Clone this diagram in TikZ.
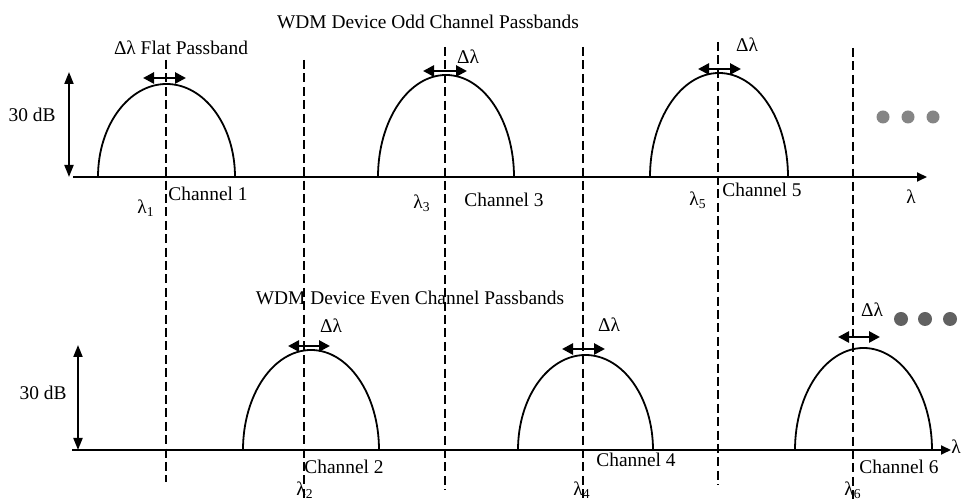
\documentclass[tikz,border=0pt]{standalone}
\usepackage{fontspec}
\setmainfont{Liberation Serif}
\usetikzlibrary{arrows.meta, positioning}

\begin{document}
\begin{tikzpicture}[x=0.5pt, y=0.5pt,
    axis/.style={line width=0.9pt, -{Triangle[length=5pt, width=4.5pt]}},
    band/.style={line width=0.9pt},
    guide/.style={line width=0.8pt, dash pattern=on 4.5pt off 2.2pt},
    span/.style={line width=1.3pt, {Triangle[length=5.5pt, width=5.5pt]}-{Triangle[length=5.5pt, width=5.5pt]}},
    gain/.style={line width=0.9pt, {Triangle[length=6pt, width=4.5pt]}-{Triangle[length=6pt, width=4.5pt]}},
    lbl/.style={font=\fontsize{9.7}{11}\selectfont, inner sep=0pt},
    dot/.style={circle, minimum size=6.5pt, inner sep=0pt}
]
\useasboundingbox (0,0) rectangle (963,502);

% Dashed channel guides
\foreach \x/\top/\bot in {166/442/20, 445/455/12, 718/460/17, 304/442/0, 583/455/0, 853/454/0} {
    \draw[guide] (\x,\top) -- (\x,\bot);
}

% Wavelength axes
\coordinate (oddL) at (73,325);
\coordinate (oddR) at (927,325);
\coordinate (evenL) at (72,52);
\coordinate (evenR) at (951,52);
\draw[axis] (oddL) -- (oddR);
\draw[axis] (evenL) -- (evenR);

% Passbands (centre/x radius/y radius/base)
\foreach \c/\rx/\ry/\base in {166.5/68.5/93/325, 446/68/102/325, 719/69/104/325,
                              311/68/100/52, 585.5/67.5/95/52, 863.5/68.5/102/52} {
    \draw[band] (\c-\rx,\base) arc[start angle=180, end angle=0, x radius=\rx, y radius=\ry];
}

% Passband width arrows
\foreach \n/\a/\b/\y in {1/143/186/424, 3/423/467/431, 5/698/741/433,
                         2/288/330/156, 4/562/605/153, 6/838/880/165} {
    \coordinate (s\n a) at (\a,\y);
    \coordinate (s\n b) at (\b,\y);
    \draw[span] (s\n a) -- (s\n b);
}

% 30 dB arrows
\coordinate (oddtop) at (69,430);
\coordinate (eventop) at (78,157);
\draw[gain] (oddtop) -- (oddtop |- oddL);
\draw[gain] (eventop) -- (eventop |- evenL);
\node[lbl] (odddb) at (32,387) {30 dB};
\node[lbl] (evendb) at (43,109) {30 dB};

% Titles
\node[lbl] (oddtitle) at (428,480) {WDM Device Odd Channel Passbands};
\node[lbl] (eventitle) at (410,204) {WDM Device Even Channel Passbands};

% Odd channel labels
\node[lbl] (flat) at (181,454) {Δλ Flat Passband};
\node[lbl] (dl3) at (468,445) {Δλ};
\node[lbl] (dl5) at (747,457) {Δλ};
\node[lbl] (ch1) at (208,308) {Channel 1};
\node[lbl] (ch3) at (504,302) {Channel 3};
\node[lbl] (ch5) at (762,312) {Channel 5};
\node[lbl] (lam1) at (146,294) {λ\textsubscript{1}};
\node[lbl] (lam3) at (422,299) {λ\textsubscript{3}};
\node[lbl] (lam5) at (698,302) {λ\textsubscript{5}};
\node[lbl] (oddlam) at (911,305) {λ};

% Even channel labels
\node[lbl] (dl2) at (331,176) {Δλ};
\node[lbl] (dl4) at (609,177) {Δλ};
\node[lbl] (dl6) at (872,192) {Δλ};
\node[lbl] (ch2) at (344,35) {Channel 2};
\node[lbl] (ch4) at (636,42) {Channel 4};
\node[lbl] (ch6) at (899,35) {Channel 6};
\node[lbl] (lam2) at (305,12) {λ\textsubscript{2}};
\node[lbl] (lam4) at (582,12) {λ\textsubscript{4}};
\node[lbl] (lam6) at (853,12) {λ\textsubscript{6}};
\node[lbl, anchor=west] (evenlam) at (951,55) {λ};

% Continuation dots
\foreach \x in {883,908,933} {
    \node[dot, fill=black!48] (od\x) at (\x,385) {};
}
\foreach \x in {901,925,950} {
    \node[dot, fill=black!62, minimum size=7pt] (ev\x) at (\x,183) {};
}

\end{tikzpicture}
\end{document}
